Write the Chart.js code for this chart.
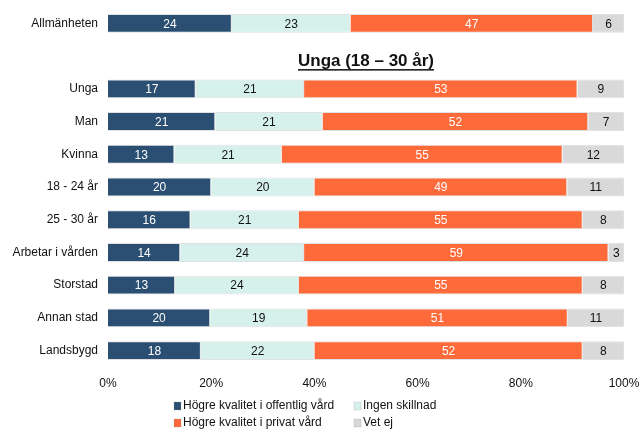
<!DOCTYPE html>
<html>
<head>
<meta charset="utf-8">
<script src="https://cdn.jsdelivr.net/npm/chart.js@4"></script>
<style>
html,body{margin:0;padding:0;background:#fff;}
#wrap{width:640px;height:430px;position:relative;}
</style>
</head>
<body>
<div id="wrap"><canvas id="c" width="640" height="430"></canvas></div>
<script>
const categories = ['Allmänheten', '', 'Unga', 'Man', 'Kvinna', '18 - 24 år', '25 - 30 år', 'Arbetar i vården', 'Storstad', 'Annan stad', 'Landsbygd'];
const seriesNames = ['Högre kvalitet i offentlig vård', 'Ingen skillnad', 'Högre kvalitet i privat vård', 'Vet ej'];
const offentlig = [24, null, 17, 21, 13, 20, 16, 14, 13, 20, 18];
const ingen     = [23, null, 21, 21, 21, 20, 21, 24, 24, 19, 22];
const privat    = [47, null, 53, 52, 55, 49, 55, 59, 55, 51, 52];
const vetej     = [6,  null, 9,  7,  12, 11, 8,  3,  8,  11, 8];
const tickLabels = ['0%', '20%', '40%', '60%', '80%', '100%'];
const sectionTitle = 'Unga (18 – 30 år)';

const colors = ['#2B4F72', '#D6F1EC', '#FF6A3B', '#D9D9D9'];
const labelColors = ['#ffffff', '#111111', '#ffffff', '#111111'];
const raw = [offentlig, ingen, privat, vetej];
const totals = categories.map((_, i) => raw.reduce((s, a) => s + (a[i] || 0), 0));
const datasets = raw.map((arr, k) => ({
  label: seriesNames[k],
  data: arr.map((v, i) => v == null ? null : v / totals[i] * 100),
  rawData: arr,
  backgroundColor: colors[k],
  borderColor: 'rgba(170,170,170,0.35)',
  borderWidth: {top: 1, bottom: 1, left: 0, right: 1},
  borderSkipped: false,
  barPercentage: 0.8,
  categoryPercentage: 0.72
}));

const FONT = 'Liberation Sans, Arial, sans-serif';

const labelPlugin = {
  id: 'labels',
  afterDatasetsDraw(chart) {
    const ctx = chart.ctx;
    ctx.save();
    ctx.font = '12px ' + FONT;
    ctx.textAlign = 'center';
    ctx.textBaseline = 'middle';
    chart.data.datasets.forEach((ds, k) => {
      const meta = chart.getDatasetMeta(k);
      meta.data.forEach((bar, i) => {
        const v = ds.rawData[i];
        if (v == null) return;
        const x = (bar.x + bar.base) / 2;
        ctx.fillStyle = labelColors[k];
        ctx.fillText(String(v), x, bar.y + 1);
      });
    });
    // section title
    const yScale = chart.scales.y;
    const ty = yScale.getPixelForValue(1) + 5;
    const cx = (chart.chartArea.left + chart.chartArea.right) / 2;
    ctx.font = 'bold 17px ' + FONT;
    ctx.fillStyle = '#111';
    ctx.textAlign = 'center';
    ctx.fillText(sectionTitle, cx, ty);
    const w = ctx.measureText(sectionTitle).width;
    ctx.fillRect(cx - w / 2, ty + 8, w, 1.5);
    // legend
    ctx.font = '12px ' + FONT;
    ctx.textAlign = 'left';
    const pos = [[174, 405], [354, 405], [174, 422], [354, 422]];
    seriesNames.forEach((n, k) => {
      const [lx, ly] = pos[k];
      ctx.fillStyle = colors[k];
      ctx.fillRect(lx, ly - 3, 7, 8);
      ctx.strokeStyle = 'rgba(150,150,150,0.5)';
      ctx.lineWidth = 0.5;
      ctx.strokeRect(lx, ly - 3, 7, 8);
      ctx.fillStyle = '#111';
      ctx.fillText(n, lx + 9, ly + 1);
    });
    ctx.restore();
  }
};

new Chart(document.getElementById('c'), {
  type: 'bar',
  data: { labels: categories, datasets },
  options: {
    indexAxis: 'y',
    responsive: false,
    animation: false,
    layout: { padding: { top: 7, right: 16, left: 0, bottom: 0 } },
    plugins: { legend: { display: false }, tooltip: { enabled: false } },
    scales: {
      x: {
        stacked: true, min: 0, max: 100,
        grid: { display: false, drawTicks: false },
        border: { display: false },
        ticks: {
          stepSize: 20, padding: 9, color: '#111',
          font: { family: FONT, size: 12 },
          callback: (v) => tickLabels[v / 20]
        },
        afterFit: (s) => { s.height = 63; s.paddingLeft = 0; s.paddingRight = 0; }
      },
      y: {
        stacked: true,
        grid: { display: false, drawTicks: false },
        border: { display: false },
        ticks: { padding: 10, color: '#111', font: { family: FONT, size: 12 } },
        afterFit: (s) => { s.width = 108; s.paddingTop = 0; s.paddingBottom = 0; }
      }
    }
  },
  plugins: [labelPlugin]
});
</script>
</body>
</html>
